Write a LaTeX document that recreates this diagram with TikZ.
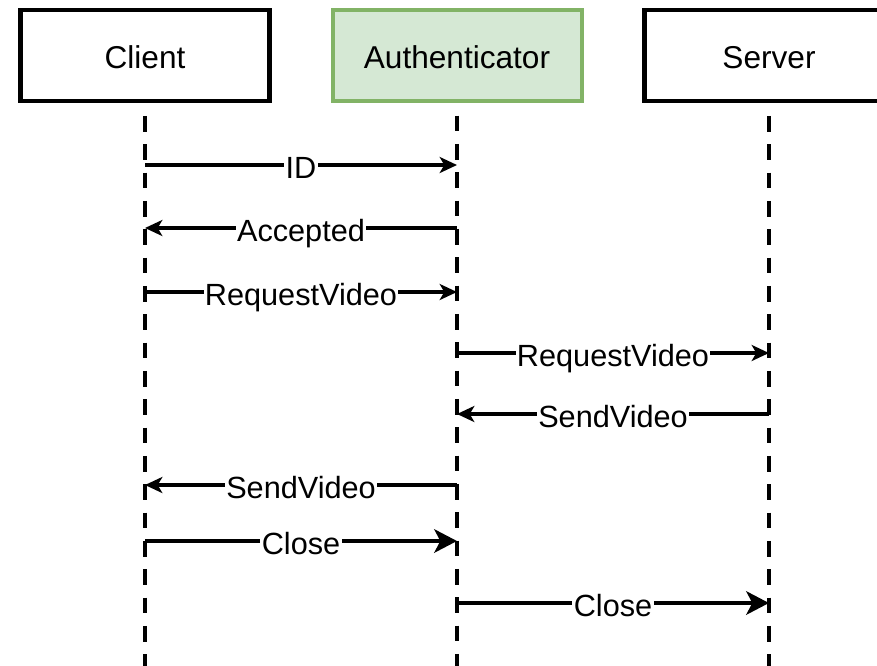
\documentclass[tikz,border=0pt]{standalone}
\usepackage{fontspec}
\setmainfont{Liberation Sans}
\usetikzlibrary{arrows.meta,calc}
\definecolor{authfill}{HTML}{D5E8D4}
\definecolor{authdraw}{HTML}{82B366}
\begin{document}
\begin{tikzpicture}[x=0.75pt,y=-0.75pt,
  actorbox/.style={draw=black,line width=3.4pt,fill=white,minimum width=186.75pt,minimum height=68.25pt,inner sep=0pt,
    font=\fontsize{23.7pt}{26pt}\selectfont,text height=20pt,text depth=0pt},
  lifeline/.style={line width=3.4pt,dash pattern=on 11.8pt off 9.45pt,dash phase=11.8pt},
  msg/.style={line width=2.4pt,-{Stealth[length=13pt,width=12pt,inset=3.5pt]}},
  bigmsg/.style={line width=3.3pt,-{Stealth[length=17pt,width=17.5pt,inset=4.5pt]}},
  lbl/.style={fill=white,inner sep=1pt,font=\fontsize{23pt}{26pt}\selectfont,text height=19.5pt,text depth=0pt}]
\clip (0,0) rectangle (877,665);
\fill[white] (0,0) rectangle (877,665);

\node[actorbox] (client) at (145,55.5) {Client};
\node[actorbox,draw=authdraw,fill=authfill,line width=3pt] (auth) at (457,55.5) {Authenticator};
\node[actorbox] (server) at (769,55.5) {Server};

\coordinate (clientend) at (145,680);
\coordinate (authend) at (457,680);
\coordinate (serverend) at (769,680);
\draw[lifeline] (client.south) -- (clientend);
\draw[lifeline] (auth.south) -- (authend);
\draw[lifeline] (server.south) -- (serverend);

% message anchors
\coordinate (c1) at (145,165); \coordinate (a1) at (457,165);
\coordinate (c2) at (145,228); \coordinate (a2) at (457,228);
\coordinate (c3) at (145,292); \coordinate (a3) at (457,292);
\coordinate (a4) at (457,353); \coordinate (s4) at (769,353);
\coordinate (a5) at (457,414); \coordinate (s5) at (769,414);
\coordinate (c6) at (145,485); \coordinate (a6) at (457,485);
\coordinate (c7) at (145,541); \coordinate (a7) at (457,541);
\coordinate (a8) at (457,603); \coordinate (s8) at (769,603);

\draw[msg] (c1) -- node[lbl] (l1) {ID} (a1);
\draw[msg] (a2) -- node[lbl] (l2) {Accepted} (c2);
\draw[msg] (c3) -- node[lbl] (l3) {RequestVideo} (a3);
\draw[msg] (a4) -- node[lbl] (l4) {RequestVideo} (s4);
\draw[msg] (s5) -- node[lbl] (l5) {SendVideo} (a5);
\draw[msg] (a6) -- node[lbl] (l6) {SendVideo} (c6);
\draw[bigmsg] (c7) -- node[lbl] (l7) {Close} (a7);
\draw[bigmsg] (a8) -- node[lbl] (l8) {Close} (s8);
\end{tikzpicture}
\end{document}
